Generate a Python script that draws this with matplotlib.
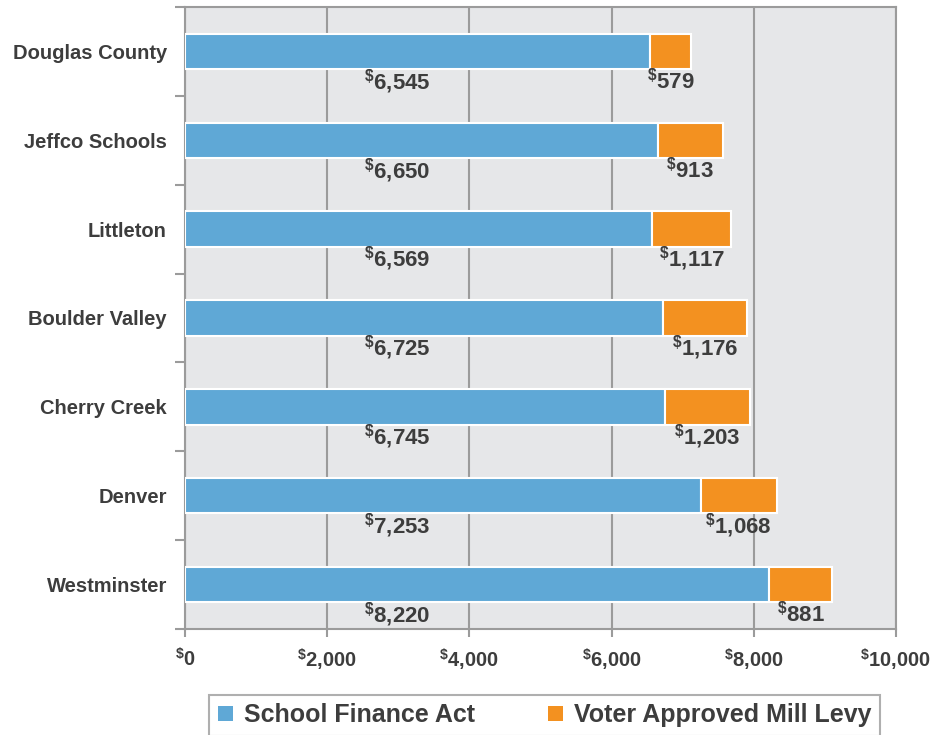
import matplotlib.pyplot as plt
from matplotlib.patches import Patch

plt.rcParams['font.family'] = ['Liberation Sans', 'DejaVu Sans']
plt.rcParams['mathtext.fontset'] = 'custom'
plt.rcParams['mathtext.rm'] = 'Liberation Sans:bold'
plt.rcParams['mathtext.bf'] = 'Liberation Sans:bold'
plt.rcParams['mathtext.it'] = 'Liberation Sans:bold'

# data
districts = ['Douglas County', 'Jeffco Schools', 'Littleton', 'Boulder Valley',
             'Cherry Creek', 'Denver', 'Westminster']
finance_act = [6545, 6650, 6569, 6725, 6745, 7253, 8220]
mill_levy = [579, 913, 1117, 1176, 1203, 1068, 881]
xticks = [0, 2000, 4000, 6000, 8000, 10000]

txt = '#3d3d3d'
grey = '#9b9b9b'
blue = '#5fa8d6'
orange = '#f39120'

def money(v):
    return r'${}^{\$}$' + f'{v:,}'

fig = plt.figure(figsize=(9.37, 7.35), dpi=100)
ax = fig.add_axes([0.1974, 0.1442, 0.7588, 0.8463])
ax.set_facecolor('#e6e7e9')

y = list(range(len(districts)))
ax.barh(y, finance_act, height=0.4, color=blue, edgecolor='white', linewidth=1.5, zorder=3)
ax.barh(y, mill_levy, left=finance_act, height=0.4, color=orange, edgecolor='white',
        linewidth=1.5, zorder=3)

for i in y:
    ax.text(2980, i + 0.34, money(finance_act[i]), ha='center', va='center',
            fontsize=16, fontweight='bold', color=txt, zorder=4)
    ax.text(finance_act[i] + mill_levy[i] / 2, i + 0.34, money(mill_levy[i]),
            ha='center', va='center', fontsize=16, fontweight='bold', color=txt, zorder=4)

ax.set_xlim(0, 10000)
ax.set_ylim(len(districts) - 0.5, -0.5)
ax.set_xticks(xticks)
ax.set_xticklabels([money(v) for v in xticks], fontsize=14.5, fontweight='bold', color=txt)
ax.set_yticks(y)
ax.set_yticklabels(districts, fontsize=14.5, fontweight='bold', color=txt)
ax.set_yticks([i - 0.5 for i in range(len(districts) + 1)], minor=True)
ax.tick_params(axis='y', which='major', length=0, pad=13)
ax.tick_params(axis='y', which='minor', length=7, width=1.5, color=grey)
ax.tick_params(axis='x', length=6, width=1.5, color=grey, pad=7)

ax.grid(axis='x', color=grey, linewidth=1.5, zorder=1)
ax.set_axisbelow(True)
for s in ax.spines.values():
    s.set_color(grey)
    s.set_linewidth(1.5)

handles = [Patch(facecolor=blue, label='School Finance Act'),
           Patch(facecolor=orange, label='Voter Approved Mill Levy')]
leg = fig.legend(handles=handles, loc='upper center', bbox_to_anchor=(0.5816, 0.055),
                 ncol=2, frameon=True, fancybox=False, edgecolor=grey,
                 prop={'weight': 'bold', 'size': 18},
                 handlelength=0.6, handleheight=0.6, handletextpad=0.45,
                 columnspacing=2.9, borderpad=0.35, borderaxespad=0)
leg.get_frame().set_linewidth(1.5)
for t in leg.get_texts():
    t.set_color(txt)

fig.savefig('out.png', dpi=100)
